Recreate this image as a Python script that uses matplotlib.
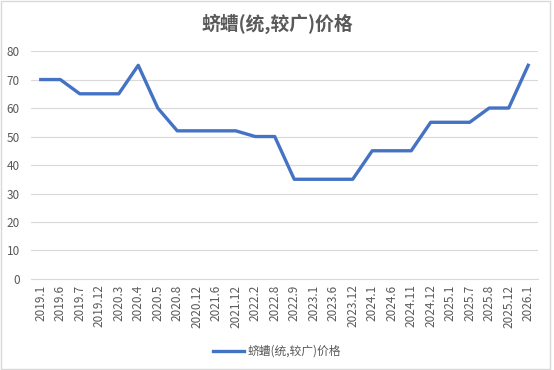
import matplotlib.pyplot as plt
from matplotlib.patches import Rectangle

plt.rcParams['font.family'] = ['Noto Sans CJK SC', 'DejaVu Sans']

# data
dates = ["2019.1", "2019.6", "2019.7", "2019.12", "2020.3", "2020.4", "2020.5",
         "2020.8", "2020.12", "2021.6", "2021.12", "2022.2", "2022.8", "2022.9",
         "2023.1", "2023.6", "2023.12", "2024.1", "2024.6", "2024.11", "2024.12",
         "2025.1", "2025.7", "2025.8", "2025.12", "2026.1"]
prices = [70, 70, 65, 65, 65, 75, 60, 52, 52, 52, 52, 50, 50, 35, 35, 35, 35,
          45, 45, 45, 55, 55, 55, 60, 60, 75]
series_name = "蛴螬(统,较广)价格"

grey = "#595959"
blue = "#4472C4"

fig = plt.figure(figsize=(5.54, 3.70), dpi=100)
ax = fig.add_axes([0.056, 0.246, 0.915, 0.616])

x = range(len(dates))
ax.plot(x, prices, color=blue, linewidth=2.4, solid_joinstyle='round',
        label=series_name)

ax.set_xlim(-0.5, len(dates) - 0.5)
ax.set_ylim(0, 80)
ax.set_yticks(range(0, 81, 10))
ax.set_xticks(list(x))
ax.set_xticklabels(dates, rotation=90)
ax.tick_params(axis='both', length=0, labelsize=8.5, labelcolor=grey)
ax.tick_params(axis='x', pad=4)
ax.tick_params(axis='y', pad=8)

ax.grid(axis='y', color='#D9D9D9', linewidth=0.8)
ax.set_axisbelow(True)
for side in ['top', 'right', 'left']:
    ax.spines[side].set_visible(False)
ax.spines['bottom'].set_color('#D9D9D9')

fig.suptitle(series_name, x=0.5, y=0.962, fontsize=13.5, fontweight='bold',
             color=grey)

fig.legend(loc='center', bbox_to_anchor=(0.5, 0.05), frameon=False,
           fontsize=8.5, labelcolor=grey, handlelength=2.6, handletextpad=0.3)

# light grey chart border
fig.patches.append(Rectangle((0.002, 0.003), 0.99, 0.994, transform=fig.transFigure,
                             fill=False, edgecolor='#D9D9D9', linewidth=1))

fig.savefig("out.png", dpi=100)
